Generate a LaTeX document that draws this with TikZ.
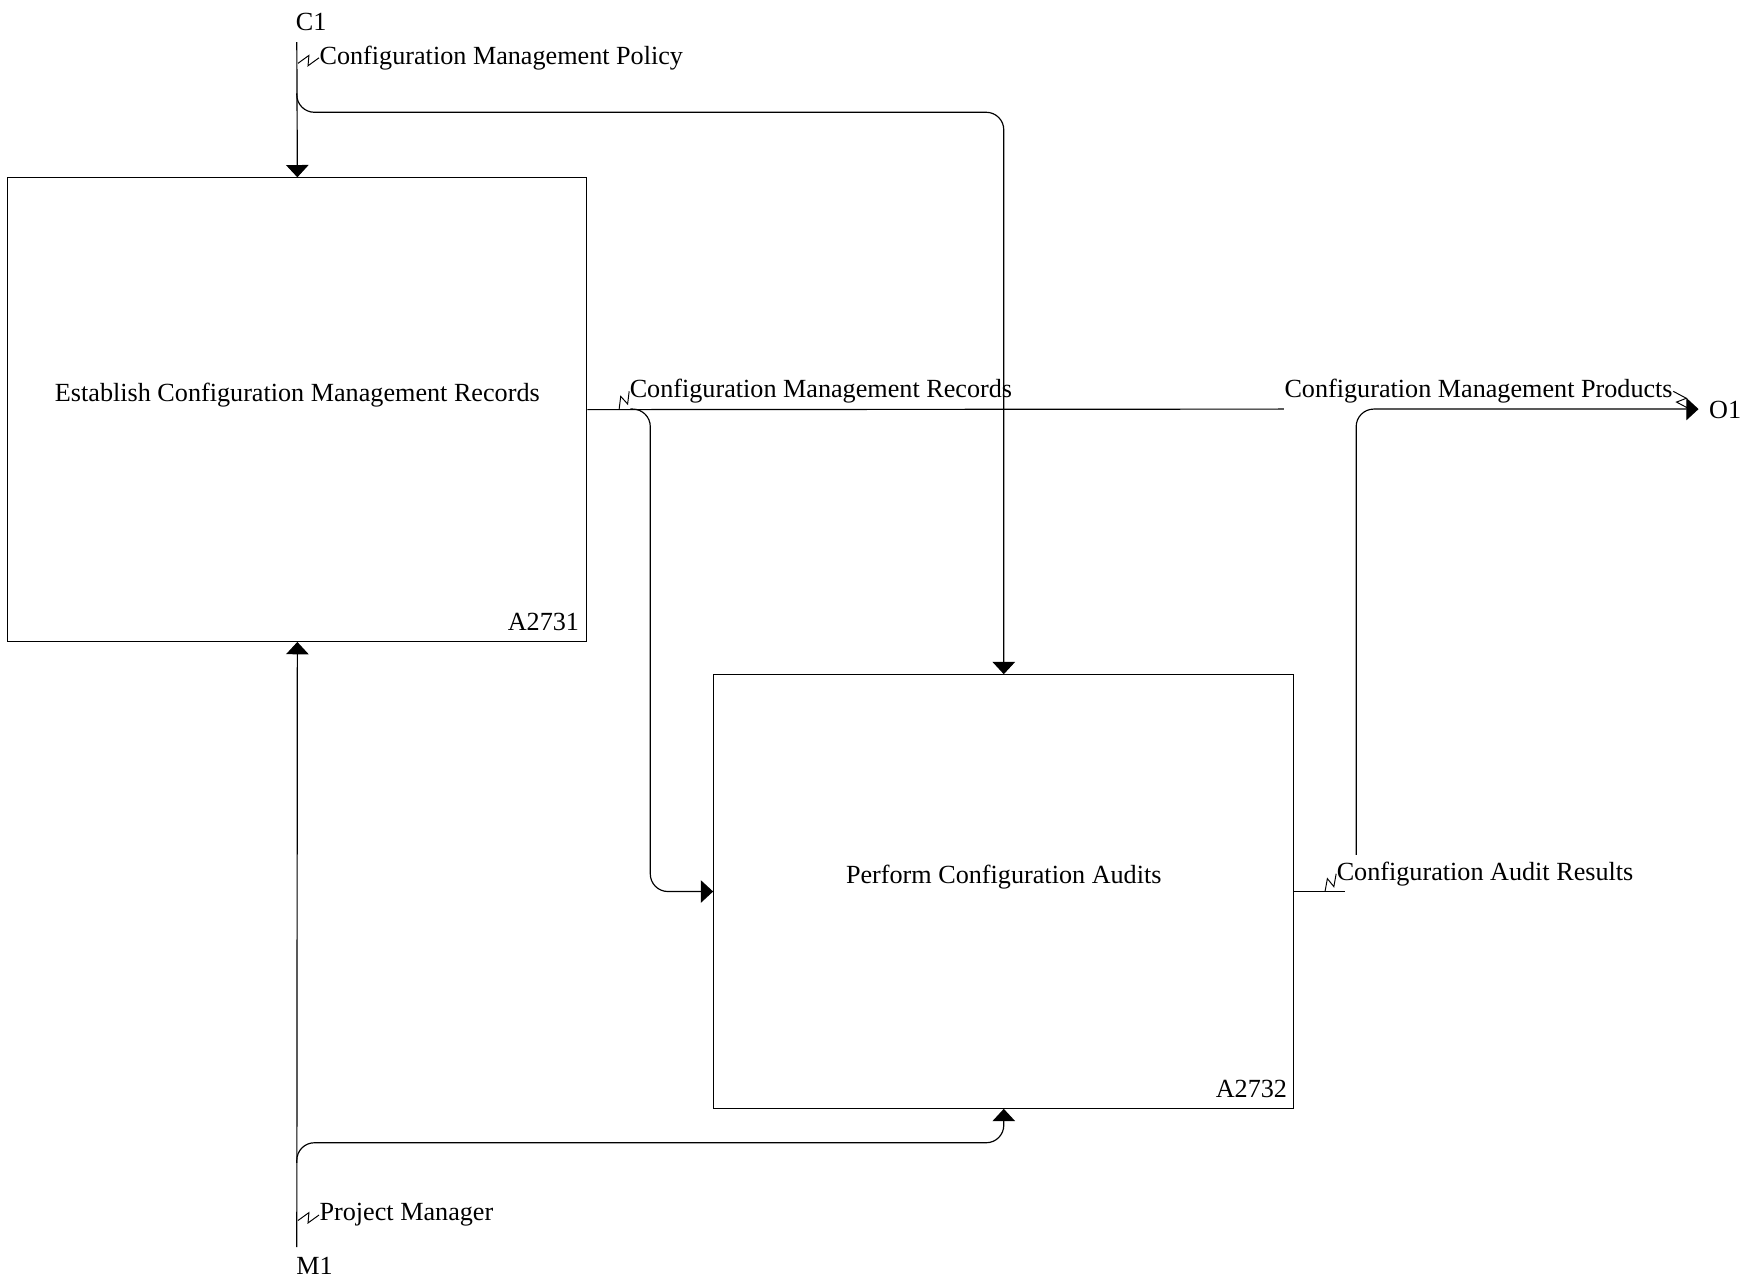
\documentclass[tikz,border=0pt]{standalone}
\usepackage{fontspec}
\setmainfont{Liberation Serif}
\usetikzlibrary{arrows.meta,calc}
\begin{document}
\begin{tikzpicture}[x=0.02cm,y=-0.02cm,
  font=\fontsize{13.4}{16}\selectfont, line width=0.6pt,
  proc/.style={draw, rectangle, inner sep=0pt},
  arr/.style={-{Triangle[length=6.3pt,width=11.5pt]}},
  rc/.style={rounded corners=9pt},
  lbl/.style={inner sep=0pt, anchor=west},
  code/.style={inner sep=0pt, anchor=base east},
  squig/.style={line width=0.5pt, to path={-- ($(\tikztostart)!0.58!(\tikztotarget)!2.5pt!90:(\tikztotarget)$) -- ($(\tikztostart)!0.42!(\tikztotarget)!2.5pt!-90:(\tikztotarget)$) -- (\tikztotarget)}}]
\useasboundingbox (0,0) rectangle (1568,1150);

% activity boxes
\node[proc, minimum width=10.42cm, minimum height=8.34cm] (b1) at (267.5,368.5) {};
\node[proc, minimum width=10.44cm, minimum height=7.8cm] (b2) at (903,802) {};
\node (t1) at (267.5,355) {Establish Configuration Management Records};
\node (t2) at (903,789) {Perform Configuration Audits};
\node[code, xshift=-4pt, yshift=5.7pt] (n1) at (b1.south east) {A2731};
\node[code, xshift=-3.5pt, yshift=5.7pt] (n2) at (b2.south east) {A2732};

% boundary / branch coordinates
\coordinate (c1) at (267,38);
\coordinate (c1b) at (267,84);
\coordinate (m1) at (267,1122);
\coordinate (m1b) at (267,1046);
\coordinate (r1) at (1155,368);
\coordinate (rb) at (567,368);
\coordinate (ar1) at (1210,802);
\coordinate (ar2) at (1220,769);
\coordinate (o1) at (1528,368);

% connectors
\draw[arr] (c1) -- (b1.north);
\draw[arr, rc] (c1b) |- (903,101) -- (b2.north);
\draw (b1.east) -- (r1);
\draw[arr, rc] (rb) -| (585,802) -- (b2.west);
\draw (b2.east) -- (ar1);
\draw[arr, rc] (ar2) |- (o1);
\draw[arr] (m1) -- (b1.south);
\draw[arr, rc] (m1b) |- (903,1028) -- (b2.south);

% labels
\node[inner sep=0pt] (lc1) at (280,20) {C1};
\node[lbl] (lpol) at (287,52) {Configuration Management Policy};
\node[lbl] (lcmr) at (566,352) {Configuration Management Records};
\node[lbl] (lcmp) at (1155,352) {Configuration Management Products};
\node[lbl] (lcar) at (1202,786) {Configuration Audit Results};
\node[lbl] (lpm) at (287,1093) {Project Manager};
\node[inner sep=0pt] (lm1) at (283,1139) {M1};
\node[inner sep=0pt] (lo1) at (1552,369) {O1};

% squiggles
\coordinate (s1) at (268,57);
\coordinate (s2) at (557,368);
\coordinate (s3) at (1520,368);
\coordinate (s4) at (1192,802);
\coordinate (s5) at (268,1098);
\draw[squig] (s1) to (lpol.west);
\draw[squig] (s2) to (lcmr.west);
\draw[squig] (lcmp.east) to (s3);
\draw[squig] (s4) to (lcar.west);
\draw[squig] (s5) to (lpm.west);
\end{tikzpicture}
\end{document}
